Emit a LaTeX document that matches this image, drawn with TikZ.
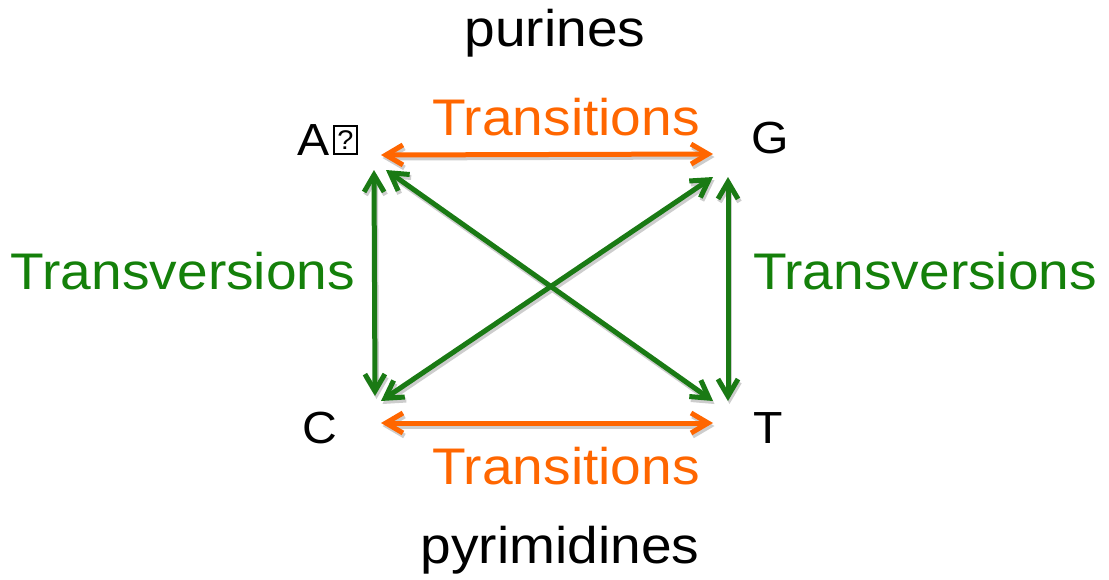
\documentclass[tikz,border=0pt]{standalone}
\usepackage{fontspec}
\setmainfont[FakeStretch=1.07]{Liberation Sans}
\usetikzlibrary{arrows.meta}
\definecolor{orng}{RGB}{255,102,0}
\definecolor{grn}{RGB}{26,122,20}
\definecolor{grntxt}{RGB}{20,128,10}
\definecolor{shd}{RGB}{205,205,205}
\tikzset{
  big/.style={font=\fontsize{51.5}{60}\selectfont, anchor=base, inner sep=0pt},
  letter/.style={font=\fontsize{45}{52}\selectfont, anchor=base, inner sep=0pt},
  arr/.style={line width=5pt, line cap=round, {Straight Barb[length=17pt,width=20pt,line width=5pt]}-{Straight Barb[length=17pt,width=20pt,line width=5pt]}},
  oarr/.style={arr, draw=orng},
  garr/.style={arr, draw=grn},
  sarr/.style={arr, draw=shd, transform canvas={shift={(1.5pt,-3pt)}}},
}
\begin{document}
\begin{tikzpicture}[x=1pt,y=-1pt]
\useasboundingbox (0,0) rectangle (1109,579);
% labels
\node[big] (pur) at (555,46) {purines};
\node[big] (pyr) at (560,563) {pyrimidines};
\node[big, text=orng] (ttop) at (566,135) {Transitions};
\node[big, text=orng] (tbot) at (566,484) {Transitions};
\node[big, text=grntxt] (tvl) at (183,289) {Transversions};
\node[big, text=grntxt] (tvr) at (925,289) {Transversions};
% bases
\node[letter, anchor=base west] (A) at (297,155) {A};
\node[draw, line width=2pt, inner sep=0pt, minimum width=23pt, minimum height=28pt, anchor=south west, font=\fontsize{27}{30}\selectfont] (q) at (333,155) {?};
\node[letter] (G) at (770,153) {G};
\node[letter] (C) at (320,443) {C};
\node[letter] (T) at (768,443) {T};
% arrow endpoints
\coordinate (ao) at (381,155);
\coordinate (go) at (713,154);
\coordinate (co) at (381,423);
\coordinate (to) at (713,423);
\coordinate (av) at (374,170);
\coordinate (cv) at (375,396);
\coordinate (ad) at (386,170);
\coordinate (td) at (713,401);
\coordinate (gv) at (728,177);
\coordinate (tv) at (728,401);
\coordinate (cd) at (381,401);
\coordinate (gd) at (713,177);
% shadows
\draw[sarr] (ao) -- (go);
\draw[sarr] (co) -- (to);
\draw[sarr] (av) -- (cv);
\draw[sarr] (gv) -- (tv);
\draw[sarr] (ad) -- (td);
\draw[sarr] (cd) -- (gd);
% connectors
\draw[oarr] (ao) -- (go);
\draw[oarr] (co) -- (to);
\draw[garr] (av) -- (cv);
\draw[garr] (gv) -- (tv);
\draw[garr] (ad) -- (td);
\draw[garr] (cd) -- (gd);
\end{tikzpicture}
\end{document}
